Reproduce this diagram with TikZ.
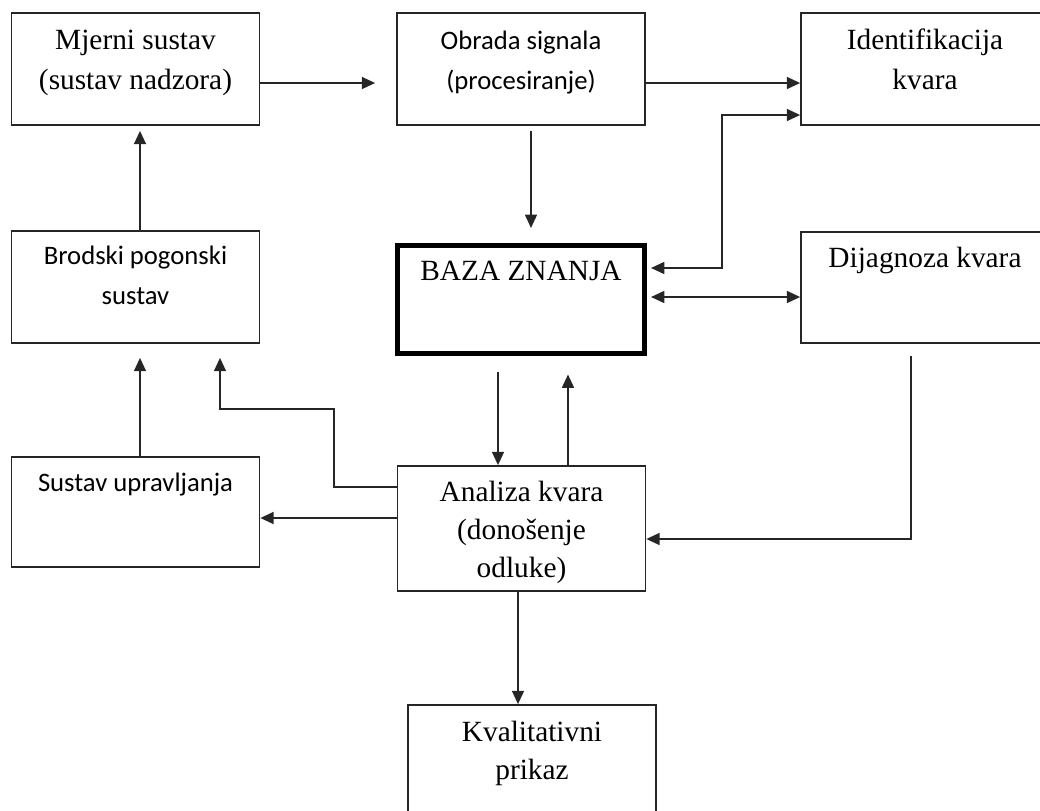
\documentclass[tikz,border=0pt]{standalone}
\usepackage{fontspec}
\setmainfont{Liberation Serif}
\newfontfamily\calfont{Carlito}
\usetikzlibrary{arrows.meta,calc}

\tikzset{
  box/.style={draw=black!85, line width=1.3pt, minimum width=248*0.75pt, minimum height=112*0.75pt, inner sep=0pt},
  thickbox/.style={box, draw=black, line width=3.8pt, minimum width=247*0.75pt, minimum height=108*0.75pt},
  serif/.style={font=\fontsize{22}{30}\selectfont, align=center, anchor=base, inner sep=0pt},
  sans/.style={font=\calfont\fontsize{20}{30}\selectfont, align=center, anchor=base, inner sep=0pt},
  arr/.style={draw=black!85, line width=1.3pt, ->},
  arrtwo/.style={arr, <->}
}

\begin{document}
\begin{tikzpicture}[x=0.75pt,y=-0.75pt,>={Triangle[length=10pt,width=9pt]}]
\useasboundingbox (0,0) rectangle (1040,811);
\clip (0,0) rectangle (1040,811);

% boxes
\node[box] (mjerni) at (135.5,69) {};
\node[box] (obrada) at (521,69) {};
\node[box] (ident) at (925,69) {};
\node[box] (brodski) at (135.5,287) {};
\node[thickbox] (baza) at (521,299.5) {};
\node[box, minimum height=111*0.75pt] (dijag) at (925,287.5) {};
\node[box, minimum height=110*0.75pt] (upr) at (135.5,512) {};
\node[box, minimum height=125*0.75pt] (analiza) at (521.5,528.5) {};
\node[box] (kval) at (532,761) {};

% text (base = last line)
\node[serif] (mjerni-t) at ($(mjerni.north)+(0,77)$) {Mjerni sustav\\(sustav nadzora)};
\node[sans] (obrada-t) at ($(obrada.north)+(0,77)$) {Obrada signala\\(procesiranje)};
\node[serif] (ident-t) at ($(ident.north)+(0,77)$) {Identifikacija\\kvara};
\node[sans] (brodski-t) at ($(brodski.north)+(0,74)$) {Brodski pogonski\\sustav};
\node[serif] (baza-t) at ($(baza.north)+(0,37.5)$) {BAZA ZNANJA};
\node[serif] (dijag-t) at ($(dijag.north)+(0,36)$) {Dijagnoza kvara};
\node[sans] (upr-t) at ($(upr.north)+(0,35)$) {Sustav upravljanja};
\node[serif, font=\fontsize{22}{28.5}\selectfont] (analiza-t) at ($(analiza.north)+(0,112)$) {Analiza kvara\\(donošenje\\odluke)};
\node[serif, font=\fontsize{22}{28.5}\selectfont] (kval-t) at ($(kval.north)+(0,75)$) {Kvalitativni\\prikaz};

% arrows
\draw[arr] ($(mjerni.east)+(0,14)$) -- ($(obrada.west)+(-21,14)$);
\draw[arr] ($(obrada.east)+(0,14)$) -- ($(ident.west)+(0,14)$);
\draw[arr] ($(obrada.south)+(10,5)$) -- ($(baza.north)+(10,-15)$);
\draw[arrtwo] ($(baza.east)+(4,-31.5)$) -| ($(ident.west)+(-78,46)$) -- ($(ident.west)+(0,46)$);
\draw[arrtwo] ($(baza.east)+(4,-2.5)$) -- ($(dijag.west)+(0,9.5)$);
\draw[arr] ($(dijag.south)+(-14,12)$) |- ($(analiza.east)+(0,10.5)$);
\draw[arr] ($(baza.south)+(-23,15.5)$) -- ($(analiza.north)+(-23.5,0)$);
\draw[arr] ($(analiza.north)+(46.5,0)$) -- ($(baza.south)+(47,18.5)$);
\draw[arr] ($(analiza.south)+(-3.5,0)$) -- ($(kval.north)+(-14,0)$);
\draw[arr] ($(analiza.west)+(0,-10.5)$) -- ($(upr.east)+(0,6)$);
\draw[arr] ($(analiza.west)+(0,-41.5)$) -| ($(analiza.west)+(-63,-119.5)$) -| ($(brodski.south)+(84.5,14)$);
\draw[arr] ($(upr.north)+(4.5,0)$) -- ($(brodski.south)+(4.5,14)$);
\draw[arr] ($(brodski.north)+(4.5,0)$) -- ($(mjerni.south)+(4.5,5)$);
\end{tikzpicture}
\end{document}
